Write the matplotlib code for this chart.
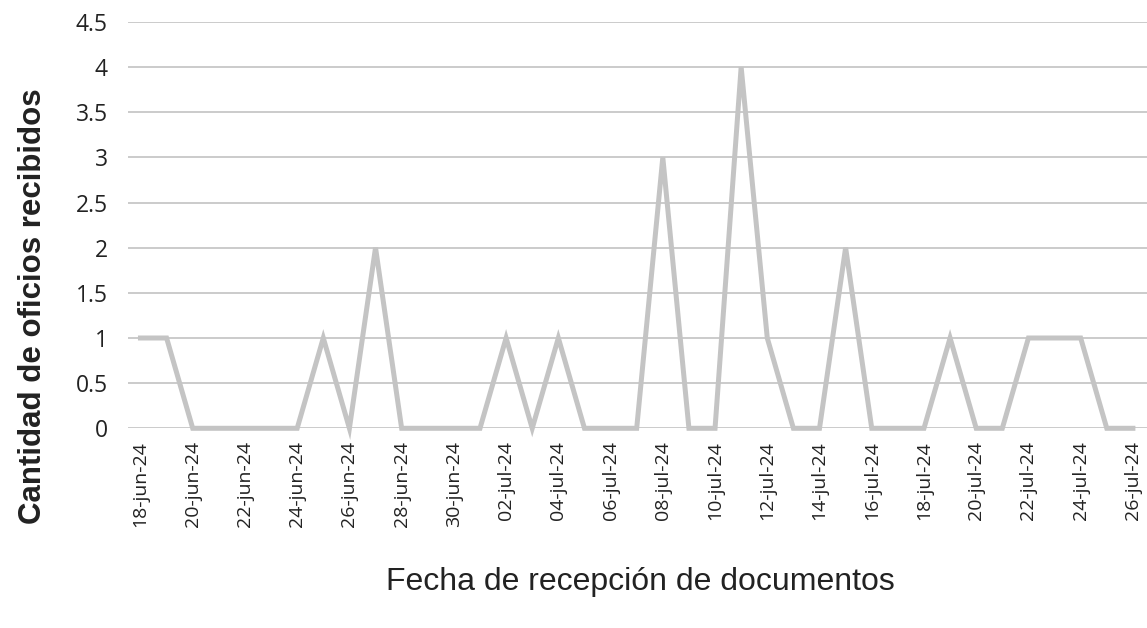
import matplotlib.pyplot as plt

# Datos: oficios recibidos por día
fechas = ["18-jun-24", "19-jun-24", "20-jun-24", "21-jun-24", "22-jun-24", "23-jun-24",
          "24-jun-24", "25-jun-24", "26-jun-24", "27-jun-24", "28-jun-24", "29-jun-24",
          "30-jun-24", "01-jul-24", "02-jul-24", "03-jul-24", "04-jul-24", "05-jul-24",
          "06-jul-24", "07-jul-24", "08-jul-24", "09-jul-24", "10-jul-24", "11-jul-24",
          "12-jul-24", "13-jul-24", "14-jul-24", "15-jul-24", "16-jul-24", "17-jul-24",
          "18-jul-24", "19-jul-24", "20-jul-24", "21-jul-24", "22-jul-24", "23-jul-24",
          "24-jul-24", "25-jul-24", "26-jul-24"]
oficios = [1, 1, 0, 0, 0, 0, 0, 1, 0, 2, 0, 0, 0, 0, 1, 0, 1, 0, 0, 0,
           3, 0, 0, 4, 1, 0, 0, 2, 0, 0, 0, 1, 0, 0, 1, 1, 1, 0, 0]
y_ticks = [0, 0.5, 1, 1.5, 2, 2.5, 3, 3.5, 4, 4.5]
y_labels = ["0", "0.5", "1", "1.5", "2", "2.5", "3", "3.5", "4", "4.5"]

plt.rcParams['font.family'] = ['Liberation Sans', 'DejaVu Sans']

fig = plt.figure(figsize=(11.47, 6.28), dpi=100)
ax = fig.add_axes([0.112, 0.318, 0.888, 0.647])

x = list(range(len(fechas)))
ax.plot(x, oficios, color="#c4c4c4", linewidth=3.6, solid_joinstyle="miter",
        clip_on=False, zorder=3)

ax.set_xlim(-0.46, len(fechas) - 1 + 0.54)
ax.set_ylim(0, 4.5)
ax.set_yticks(y_ticks)
ax.set_yticklabels(y_labels, fontsize=16.5, color="#222222",
                   family=['Open Sans', 'DejaVu Sans'])
ax.set_xticks(x[::2])
ax.set_xticklabels(fechas[::2], rotation=90, fontsize=14, color="#222222",
                   family=['Open Sans', 'DejaVu Sans'])
ax.tick_params(length=0, pad=9)
ax.tick_params(axis='y', pad=15)

ax.grid(axis='y', color="#c2c2c2", linewidth=1.2, zorder=0)
ax.set_axisbelow(True)
for s in ax.spines.values():
    s.set_visible(False)

fig.text(0.029, 0.512, "Cantidad de oficios recibidos", fontsize=22.5, fontweight="bold",
         rotation=90, ha="center", va="center", color="#222222")
fig.text(0.558, 0.073, "Fecha de recepción de documentos", fontsize=23,
         ha="center", va="center", color="#222222")

fig.savefig("out.png", dpi=100)
